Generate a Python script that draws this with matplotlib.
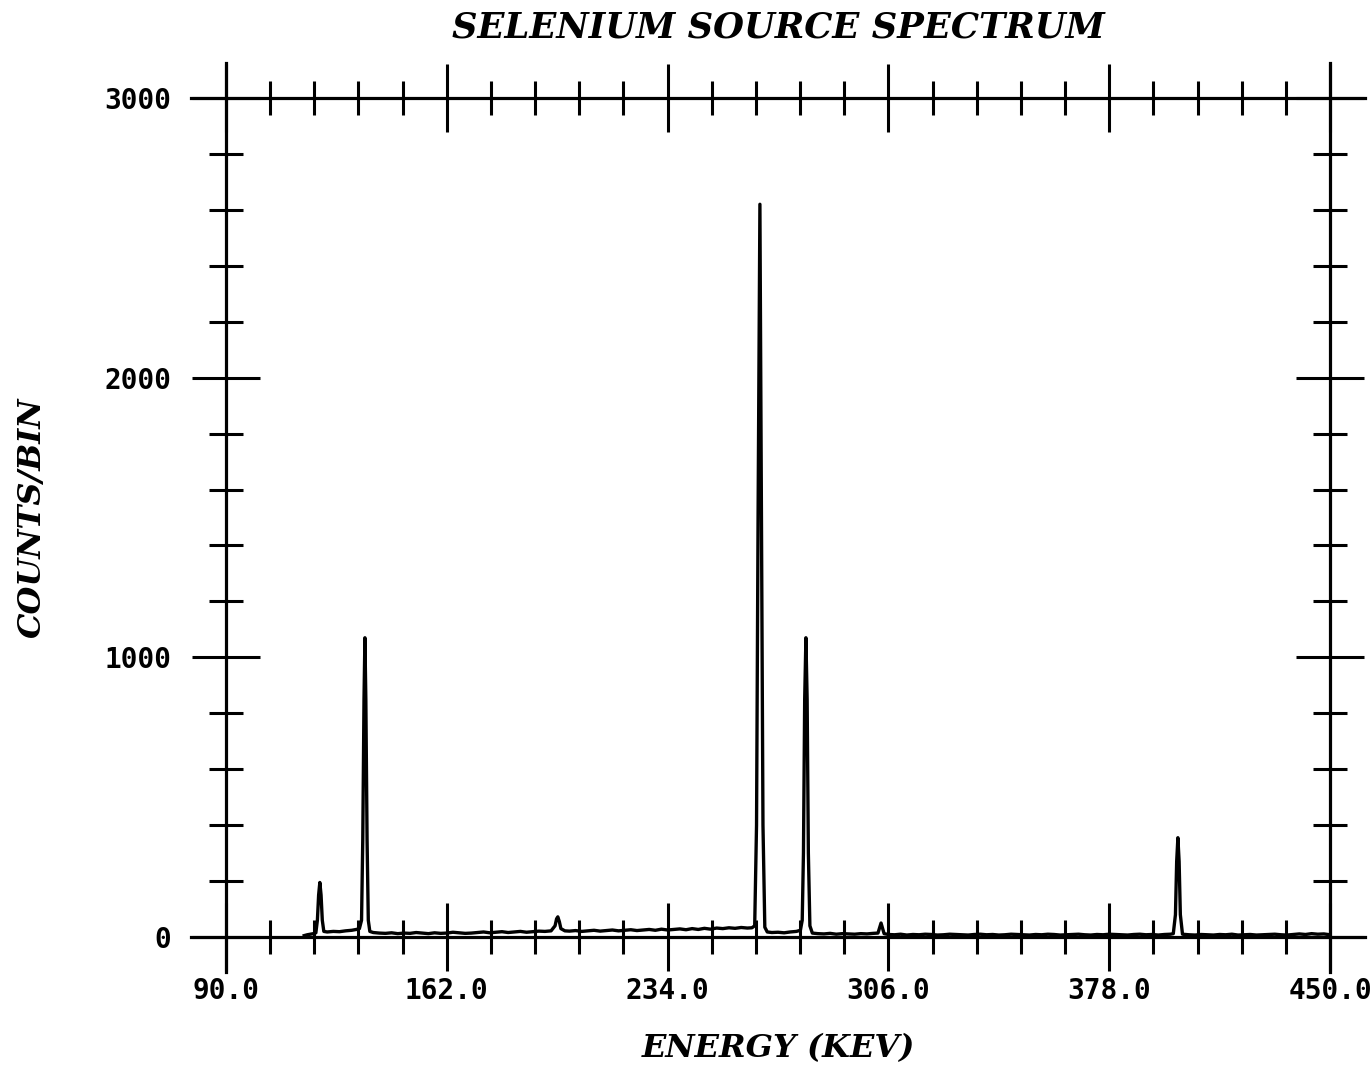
import matplotlib
matplotlib.use("Agg")
import matplotlib.pyplot as plt
from matplotlib.ticker import MultipleLocator, FixedLocator
from matplotlib.lines import Line2D

# ---- data ----
energy_kev = [
    115.5, 116.5, 117.5, 118.5, 119.3, 119.8, 120.2, 120.6, 121.0, 121.4, 121.9,
    123.0, 125.0, 127.0, 129.0, 131.0, 132.5, 133.5,
    134.2, 134.6, 135.0, 135.3, 135.6, 136.0, 136.4, 136.9,
    138, 140, 142, 144, 146, 148, 150, 152, 154, 156, 158, 160, 162, 164, 166,
    168, 170, 172, 174, 176, 178, 180, 182, 184, 186, 188, 190, 192, 194, 196,
    197.3, 197.8, 198.2, 198.7, 199.2, 200.5,
    202, 204, 206, 208, 210, 212, 214, 216, 218, 220, 222, 224, 226, 228, 230,
    232, 234, 236, 238, 240, 242, 244, 246, 248, 250, 252, 254, 256, 258, 260,
    261.5, 262.4, 263.0, 263.5, 264.1, 264.6, 265.1, 265.7, 266.5,
    268, 270, 272, 274, 276, 277.3,
    277.9, 278.3, 278.7, 279.1, 279.5, 279.9, 280.4, 281.2,
    283, 285, 287, 289, 291, 293, 295, 297, 299, 301,
    302.6, 303.2, 303.6, 304.0, 304.6,
    306, 308, 310, 312, 314, 316, 318, 320, 322, 324, 326, 328, 330, 332, 334,
    336, 338, 340, 342, 344, 346, 348, 350, 352, 354, 356, 358, 360, 362, 364,
    366, 368, 370, 372, 374, 376, 378, 380, 382, 384, 386, 388, 390, 392, 394,
    396, 398,
    398.9, 399.6, 400.0, 400.4, 400.8, 401.2, 401.9,
    404, 406, 408, 410, 412, 414, 416, 418, 420, 422, 424, 426, 428, 430, 432,
    434, 436, 438, 440, 442, 444, 446, 448, 450,
]
counts = [
    5, 8, 10, 12, 15, 60, 150, 195, 150, 60, 20,
    18, 20, 19, 22, 24, 27, 30,
    60, 350, 850, 1070, 850, 350, 60, 20,
    16, 14, 13, 15, 12, 14, 13, 16, 14, 12, 15, 13, 14, 17, 15,
    13, 14, 16, 18, 15, 17, 19, 16, 18, 20, 17, 19, 21, 20, 22,
    40, 65, 72, 55, 30, 22,
    21, 23, 20, 22, 24, 21, 23, 25, 22, 24, 26, 23, 25, 27, 24,
    28, 25, 27, 29, 26, 30, 27, 31, 28, 32, 30, 33, 31, 34, 32,
    33, 40, 400, 1500, 2620, 1500, 400, 35, 18,
    16, 17, 15, 18, 20, 24,
    60, 300, 850, 1070, 850, 300, 40, 14,
    12, 11, 13, 10, 12, 11, 10, 12, 11, 13,
    14, 35, 50, 35, 12,
    9, 8, 10, 7, 9, 8, 10, 9, 7, 8, 10, 9, 8, 7, 9,
    10, 8, 9, 7, 8, 10, 9, 8, 7, 9, 8, 10, 9, 7, 8,
    9, 10, 8, 7, 9, 8, 10, 9, 8, 7, 9, 10, 8, 9, 7,
    9, 10,
    12, 80, 270, 355, 270, 80, 10,
    8, 7, 9, 8, 7, 9, 8, 10, 7, 8, 9, 7, 8, 9, 10,
    8, 7, 9, 11, 9, 12, 10, 11, 8,
]

x_major = [90.0, 162.0, 234.0, 306.0, 378.0, 450.0]
x_labels = ["90.0", "162.0", "234.0", "306.0", "378.0", "450.0"]
y_major = [0, 1000, 2000, 3000]
y_labels = ["0", "1000", "2000", "3000"]

title = "SELENIUM SOURCE SPECTRUM"
xlabel = "ENERGY (KEV)"
ylabel = "COUNTS/BIN"

# ---- figure ----
W, H = 1371, 1070
fig = plt.figure(figsize=(W / 100, H / 100), dpi=100)
L, R, B, T = 226, 1330, 937, 98
ax = fig.add_axes([L / W, 1 - B / H, (R - L) / W, (B - T) / H])
ax.set_xlim(90, 450)
ax.set_ylim(0, 3000)

ax.plot(energy_kev, counts, color="black", lw=2.4, solid_joinstyle="round")

for s in ax.spines.values():
    s.set_visible(False)

# frame lines extending past the axes box
ext_x = 35 / (R - L)
ext_y = 35 / (B - T)
lw_frame = 2.3
for yv in (0, 1):
    ax.add_line(Line2D([-ext_x, 1 + ext_x], [yv, yv], transform=ax.transAxes,
                       color="black", lw=lw_frame, clip_on=False))
for xv in (0, 1):
    ax.add_line(Line2D([xv, xv], [-ext_y, 1 + ext_y], transform=ax.transAxes,
                       color="black", lw=lw_frame, clip_on=False))

ax.xaxis.set_major_locator(FixedLocator(x_major))
ax.xaxis.set_minor_locator(MultipleLocator(14.4, offset=90.0))
ax.yaxis.set_major_locator(FixedLocator(y_major))
ax.yaxis.set_minor_locator(MultipleLocator(200))
ax.set_xticklabels(x_labels)
ax.set_yticklabels(y_labels)

ax.tick_params(which="both", direction="inout", top=True, right=True,
               width=2.2, color="black")
ax.tick_params(which="major", length=49)
ax.tick_params(which="minor", length=25)
ax.tick_params(axis="x", which="major", pad=4)
ax.tick_params(axis="y", which="major", pad=15)
for lab in ax.get_xticklabels() + ax.get_yticklabels():
    lab.set_fontfamily("DejaVu Sans Mono")
    lab.set_fontweight("bold")
    lab.set_fontsize(20)

fig.text(778 / W, 1 - 28 / H, title, ha="center", va="center",
         family="DejaVu Serif", weight="bold", style="italic", size=25.5)
fig.text(778 / W, 1 - 1049 / H, xlabel, ha="center", va="center",
         family="DejaVu Serif", weight="bold", style="italic", size=23)
fig.text(32 / W, 1 - 518 / H, ylabel, ha="center", va="center", rotation=90,
         family="DejaVu Serif", weight="bold", style="italic", size=23)

fig.savefig("out.png", dpi=100, facecolor="white")
